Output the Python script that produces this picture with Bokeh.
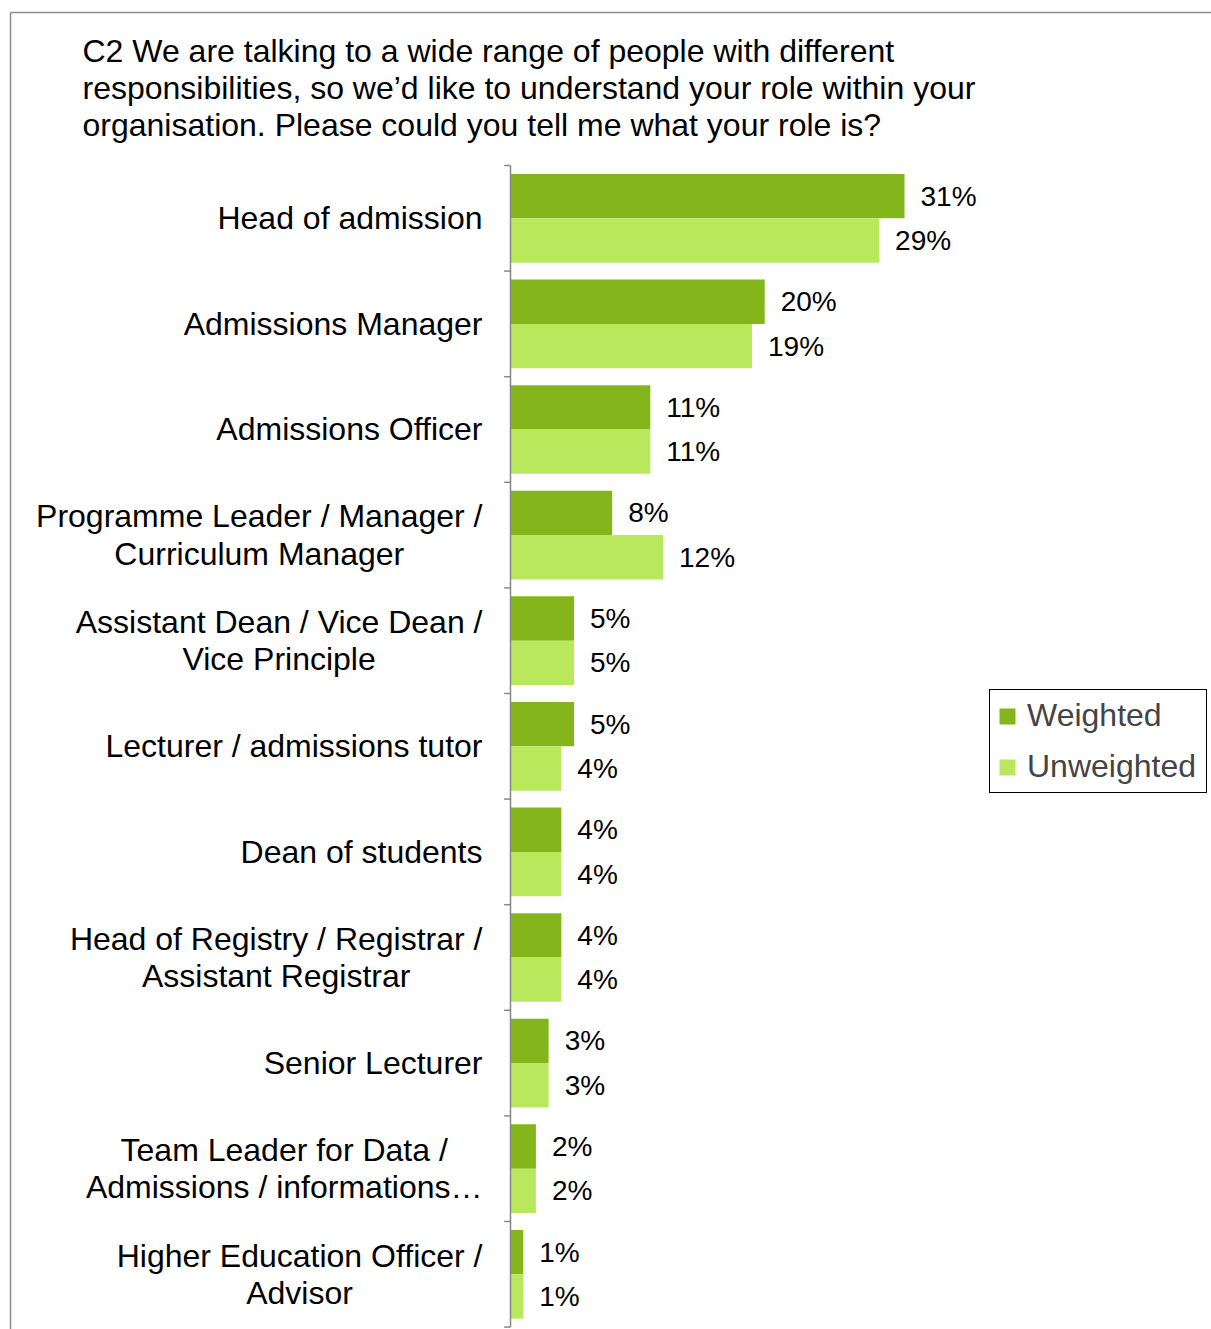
from bokeh.plotting import figure
from bokeh.models import Range1d, ColumnDataSource, Legend, LegendItem
from bokeh.core.properties import value
from bokeh.embed import file_html
from bokeh.resources import INLINE

# ---- data ----
categories = [
    "Head of admission",
    "Admissions Manager",
    "Admissions Officer",
    "Programme Leader / Manager /\nCurriculum Manager",
    "Assistant Dean / Vice Dean /\nVice Principle",
    "Lecturer / admissions tutor",
    "Dean of students",
    "Head of Registry / Registrar /\nAssistant Registrar",
    "Senior Lecturer",
    "Team Leader for Data /\nAdmissions / informations\u2026",
    "Higher Education Officer /\nAdvisor",
]
weighted = [31, 20, 11, 8, 5, 5, 4, 4, 3, 2, 1]
unweighted = [29, 19, 11, 12, 5, 4, 4, 4, 3, 2, 1]
series_names = ["Weighted", "Unweighted"]
title_text = ("C2 We are talking to a wide range of people with different\n"
              "responsibilities, so we\u2019d like to understand your role within your\n"
              "organisation. Please could you tell me what your role is?")

# ---- styling ----
DARK = "#84B61C"
LIGHT = "#BAE85D"
AXIS = "#868686"
BORDER = "#8c8c8c"
FONT = "Liberation Sans"

W, H = 1211, 1329
n = len(categories)
pos = [i + 0.5 for i in range(n)]
bar_h = 0.42

X0, X1 = -40.126, 55.154
Y_BOTTOM, Y_TOP = 11.023, -1.5625


def px_x(px):
    return X0 + (X1 - X0) * px / W


def px_y(py):
    return Y_TOP + (Y_BOTTOM - Y_TOP) * py / H


p = figure(width=W, height=H, output_backend="svg", toolbar_location=None,
           x_range=Range1d(X0, X1), y_range=Range1d(Y_BOTTOM, Y_TOP),
           x_axis_location=None, y_axis_location=None,
           min_border_left=0, min_border_top=0, min_border_right=0, min_border_bottom=0)
p.title.visible = False
p.grid.visible = False
p.outline_line_color = None
p.background_fill_color = "white"
p.border_fill_color = "white"

# chart-area border (left and top edges visible in the crop)
bx, by = px_x(10), px_y(12)
p.segment(x0=[bx, bx], y0=[by, by], x1=[bx, X1], y1=[Y_BOTTOM, by],
          line_color=BORDER, line_width=1.5)

src = ColumnDataSource(dict(
    cat=categories, pos=pos,
    w=weighted, u=unweighted,
    yw=[y - bar_h / 2 for y in pos], yu=[y + bar_h / 2 for y in pos],
    wl=[f"{v}%" for v in weighted], ul=[f"{v}%" for v in unweighted],
    zero=[0] * n,
))

rw = p.hbar(y="yw", left=0, right="w", height=bar_h, source=src,
            fill_color=DARK, line_color=None)
ru = p.hbar(y="yu", left=0, right="u", height=bar_h, source=src,
            fill_color=LIGHT, line_color=None)

# category axis (line + ticks between categories)
p.segment(x0=[0], y0=[0], x1=[0], y1=[n], line_color=AXIS, line_width=1.5)
p.segment(x0=[-0.5] * (n + 1), y0=list(range(n + 1)), x1=[0] * (n + 1),
          y1=list(range(n + 1)), line_color=AXIS, line_width=1.5)

# category labels
p.text(x="zero", y="pos", text="cat", source=src, x_offset=-28,
       text_align="center", text_baseline="middle", anchor="center_right",
       text_font=value(FONT), text_font_size="32px", text_line_height=1.04,
       text_color="black")

# value labels
p.text(x="w", y="yw", text="wl", source=src, x_offset=16,
       text_align="left", text_baseline="middle",
       text_font=value(FONT), text_font_size="28px", text_color="black")
p.text(x="u", y="yu", text="ul", source=src, x_offset=16,
       text_align="left", text_baseline="middle",
       text_font=value(FONT), text_font_size="28px", text_color="black")

# title inside the chart border
p.text(x=[X0], y=[Y_TOP], text=[title_text],
       x_offset=82, y_offset=32, text_align="left", text_baseline="top",
       text_font=value(FONT), text_font_size="32px", text_line_height=1.03,
       text_color="black")

legend = Legend(items=[LegendItem(label=series_names[0], renderers=[rw]),
                       LegendItem(label=series_names[1], renderers=[ru])],
                location=(989, 536),
                label_text_font=FONT, label_text_font_size="32px",
                glyph_width=20, glyph_height=20, label_standoff=10,
                label_width=172,
                padding=7, spacing=14, margin=0,
                border_line_color="black", border_line_width=1.5,
                border_line_alpha=1.0,
                background_fill_color="white", background_fill_alpha=1.0)
p.add_layout(legend, "center")

open("out.html", "w").write(file_html(p, INLINE))
